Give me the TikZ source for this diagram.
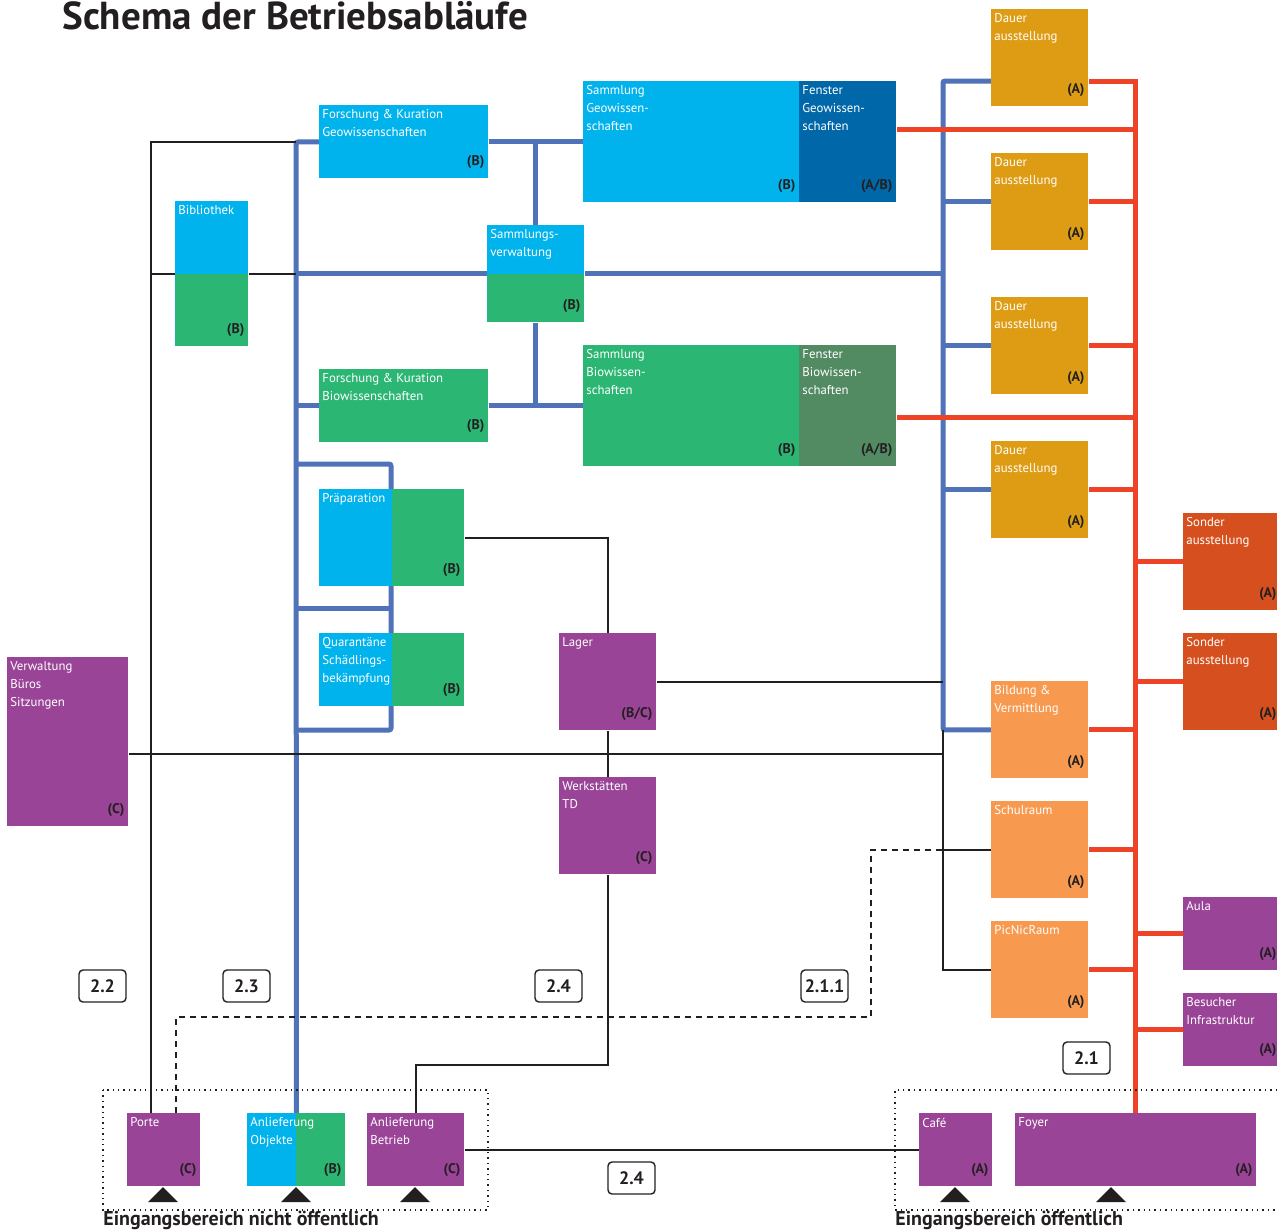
\documentclass[tikz,border=0pt]{standalone}
\usepackage{fontspec}
\setmainfont{PT Sans}
\usetikzlibrary{calc,backgrounds}

\definecolor{cyanbox}{HTML}{00B3EC}
\definecolor{greenbox}{HTML}{2BB673}
\definecolor{geofen}{HTML}{0067A8}
\definecolor{biofen}{HTML}{528A62}
\definecolor{dauerc}{HTML}{DE9C14}
\definecolor{sonderc}{HTML}{D5501E}
\definecolor{bildc}{HTML}{F79A50}
\definecolor{purplec}{HTML}{9A4497}
\definecolor{busblue}{HTML}{4F72B8}
\definecolor{busred}{HTML}{EE4327}
\definecolor{inkc}{HTML}{231F20}

\newcommand{\boxfont}{\fontsize{6.4}{9}\selectfont}
\newcommand{\tagfont}{\fontsize{7}{9}\selectfont\bfseries}
\newcommand{\secfont}{\fontsize{9}{10}\selectfont\bfseries}
\newcommand{\zonefont}{\fontsize{10}{11}\selectfont\bfseries}
\newcommand{\titlefont}{\fontsize{19.5}{22}\selectfont\bfseries}

\tikzset{
  room/.style={
    shape = rectangle,
    anchor = north west,
    inner sep = 0pt,
    draw = none
  },
  roomtext/.style={
    anchor = north west,
    inner xsep = 1.5pt,
    inner ysep = 2.2pt,
    align = left,
    text = white,
    font = \boxfont
  },
  tagtext/.style={
    anchor = south east,
    inner xsep = 2pt,
    inner ysep = 5pt,
    text = inkc,
    font = \tagfont
  },
  lowhalf/.style={
    path picture={\fill[greenbox] (path picture bounding box.west) rectangle (path picture bounding box.south east);}
  },
  righthalf/.style={
    path picture={\fill[greenbox] (path picture bounding box.north) rectangle (path picture bounding box.south east);}
  },
}
\tikzset{
  bluebus/.style={draw=busblue, line width=2.5pt, rounded corners=1pt},
  redbus/.style={draw=busred, line width=2.5pt},
  link/.style={draw=inkc, line width=0.7pt},
  dashlink/.style={draw=inkc, line width=0.6pt, dash pattern=on 3pt off 2.5pt},
  secbox/.style={
    draw = inkc,
    line width = 0.7pt,
    rounded corners = 2pt,
    minimum width = 23.5pt,
    minimum height = 16pt,
    inner sep = 0pt,
    text = inkc,
    font = \secfont
  },
  zone/.style={draw=inkc, line width=0.7pt, dotted},
  zonetext/.style={anchor=north west, inner sep=0pt, text=inkc, font=\zonefont}
}

% name, x, y, width, height (px), fill, text, tag
\newcommand{\room}[8]{%
  \node[room, #6, minimum width=#4*0.5pt, minimum height=#5*0.5pt] (#1) at (#2,#3) {};
  \node[roomtext] at (#1.north west) {#7};
  \node[tagtext] at (#1.south east) {#8};}

\begin{document}
\begin{tikzpicture}[x=0.5pt,y=-0.5pt]
    \useasboundingbox (0,0) rectangle (1277,1231);
    \node[anchor=base west, inner sep=0pt, text=inkc, font=\titlefont] (title) at (62,29) {Schema der Betriebsabläufe};

    % research and collections
    \room{fkgeo}{319}{105}{169}{73}{fill=cyanbox}{Forschung \& Kuration\\Geowissenschaften}{(B)}
    \room{bib}{175}{201}{73}{145}{fill=cyanbox, lowhalf}{Bibliothek}{(B)}
    \room{samgeo}{583}{81}{216}{121}{fill=cyanbox}{Sammlung\\Geowissen-\\schaften}{(B)}
    \room{fengeo}{799}{81}{97}{121}{fill=geofen}{Fenster\\Geowissen-\\schaften}{(A/B)}
    \room{samverw}{487}{225}{97}{97}{fill=cyanbox, lowhalf}{Sammlungs-\\verwaltung}{(B)}
    \room{fkbio}{319}{369}{169}{73}{fill=greenbox}{Forschung \& Kuration\\Biowissenschaften}{(B)}
    \room{sambio}{583}{345}{216}{121}{fill=greenbox}{Sammlung\\Biowissen-\\schaften}{(B)}
    \room{fenbio}{799}{345}{97}{121}{fill=biofen}{Fenster\\Biowissen-\\schaften}{(A/B)}
    \room{prep}{319}{489}{145}{97}{fill=cyanbox, righthalf}{Präparation}{(B)}
    \room{quar}{319}{633}{145}{73}{fill=cyanbox, righthalf}{Quarantäne\\Schädlings-\\bekämpfung}{(B)}
    \room{lager}{559}{633}{97}{97}{fill=purplec}{Lager}{(B/C)}
    \room{werk}{559}{777}{97}{97}{fill=purplec}{Werkstätten\\TD}{(C)}
    \room{verw}{7}{657}{121}{169}{fill=purplec}{Verwaltung\\Büros\\Sitzungen}{(C)}

    % public rooms
    \room{dauer1}{991}{9}{97}{97}{fill=dauerc}{Dauer\\ausstellung}{(A)}
    \room{dauer2}{991}{153}{97}{97}{fill=dauerc}{Dauer\\ausstellung}{(A)}
    \room{dauer3}{991}{297}{97}{97}{fill=dauerc}{Dauer\\ausstellung}{(A)}
    \room{dauer4}{991}{441}{97}{97}{fill=dauerc}{Dauer\\ausstellung}{(A)}
    \room{sonder1}{1183}{513}{97}{97}{fill=sonderc}{Sonder\\ausstellung}{(A)}
    \room{sonder2}{1183}{633}{97}{97}{fill=sonderc}{Sonder\\ausstellung}{(A)}
    \room{bild}{991}{681}{97}{97}{fill=bildc}{Bildung \&\\Vermittlung}{(A)}
    \room{schul}{991}{801}{97}{97}{fill=bildc}{Schulraum}{(A)}
    \room{picnic}{991}{921}{97}{97}{fill=bildc}{PicNicRaum}{(A)}
    \room{aula}{1183}{897}{97}{73}{fill=purplec}{Aula}{(A)}
    \room{besuch}{1183}{993}{97}{73}{fill=purplec}{Besucher\\Infrastruktur}{(A)}

    % entrances
    \room{porte}{127}{1113}{73}{73}{fill=purplec}{Porte}{(C)}
    \room{anlobj}{247}{1113}{98}{73}{fill=cyanbox, righthalf}{Anlieferung\\Objekte}{(B)}
    \room{anlbet}{367}{1113}{97}{73}{fill=purplec}{Anlieferung\\Betrieb}{(C)}
    \room{cafe}{919}{1113}{73}{73}{fill=purplec}{Café}{(A)}
    \room{foyer}{1015}{1113}{241}{73}{fill=purplec}{Foyer}{(A)}

    \foreach \tx in {163,296,415,955,1111}
        \fill[inkc] (\tx-15,1202) -- (\tx+15,1202) -- (\tx,1187) -- cycle;

    \draw[zone] (103,1090) rectangle (488,1210);
    \draw[zone] (1277,1090) -- (895,1090) -- (895,1210) -- (1277,1210);
    \node[zonetext] (zoneint) at (103,1211) {Eingangsbereich nicht öffentlich};
    \node[zonetext] (zonepub) at (895,1211) {Eingangsbereich öffentlich};

    \node[secbox] (sec22) at (102.5,986) {2.2};
    \node[secbox] (sec23) at (246.5,986) {2.3};
    \node[secbox] (sec24a) at (558.5,986) {2.4};
    \node[secbox] (sec211) at (824.5,986) {2.1.1};
    \node[secbox] (sec21) at (1086.5,1058) {2.1};
    \node[secbox] (sec24b) at (631.5,1178) {2.4};

    \begin{scope}[on background layer]
    \coordinate (bL) at (296,142);
    \coordinate (bR) at (943,81);
    \coordinate (rT) at (1135,81);
    \coordinate (kL) at (151,142);
    \coordinate (brk) at (391,464);
    \coordinate (brkM) at (391,608);
    \coordinate (brkB) at (391,730);
    % blue: objects
    \draw[bluebus] (fkgeo.west) -- (bL) -- (anlobj.north);
    \draw[bluebus] (fkgeo.east) -- (samgeo.west);
    \draw[bluebus] (fkgeo.east -| samverw.north) -- (samverw.north);
    \draw[bluebus] (bL |- samverw.west) -- (samverw.west);
    \draw[bluebus] (samverw.east) -- (bR |- samverw.east);
    \draw[bluebus] (bL |- fkbio.west) -- (fkbio.west);
    \draw[bluebus] (fkbio.east) -- (sambio.west);
    \draw[bluebus] (samverw.south) -- (samverw.south |- fkbio.east);
    \draw[bluebus] (bL |- brk) -- (brk) -- (brkB) -- (bL |- brkB);
    \draw[bluebus] (bL |- brkM) -- (brkM);
    \draw[bluebus] (dauer1.west |- bR) -- (bR) -- (bR |- bild.west) -- (bild.west);
    \foreach \r in {dauer2,dauer3,dauer4}
        \draw[bluebus] (bR |- \r.west) -- (\r.west);
    % red: visitors
    \draw[redbus] (dauer1.east |- rT) -- (rT) -- (rT |- foyer.north);
    \coordinate (fg) at ([yshift=6pt]fengeo.east);
    \coordinate (fb) at ([yshift=-6pt]fenbio.east);
    \draw[redbus] (fg) -- (rT |- fg);
    \draw[redbus] (fb) -- (rT |- fb);
    \foreach \r in {dauer2,dauer3,dauer4,bild,schul,picnic}
        \draw[redbus] (\r.east) -- (rT |- \r.east);
    \foreach \r in {sonder1,sonder2,aula,besuch}
        \draw[redbus] (rT |- \r.west) -- (\r.west);
    % black: staff
    \draw[link] (bL) -- (kL) -- (kL |- porte.north);
    \draw[link] (kL |- bib.west) -- (bib.west);
    \draw[link] (bib.east) -- (bL |- bib.east);
    \draw[link] (prep.east) -| (lager.north);
    \draw[link] (lager.south) -- (werk.north);
    \coordinate (wj) at ($(anlbet.north)+(0,-48)$);
    \draw[link] (werk.south) |- (wj) -- (anlbet.north);
    \draw[link] (lager.east) -- (bR |- lager.east);
    \coordinate (vw) at ([yshift=-6pt]verw.east);
    \draw[link] (vw) -- (bR |- vw);
    \draw[link] (bR |- bild.west) -- (bR |- picnic.west) -- (picnic.west);
    \draw[link] (bR |- schul.west) -- (schul.west);
    \draw[link] (anlbet.east) -- (cafe.west);
    \coordinate (dj) at (871,1017);
    \draw[dashlink] ([xshift=6pt]porte.north) |- (dj) |- (bR |- schul.west);
    \end{scope}
\end{tikzpicture}
\end{document}
